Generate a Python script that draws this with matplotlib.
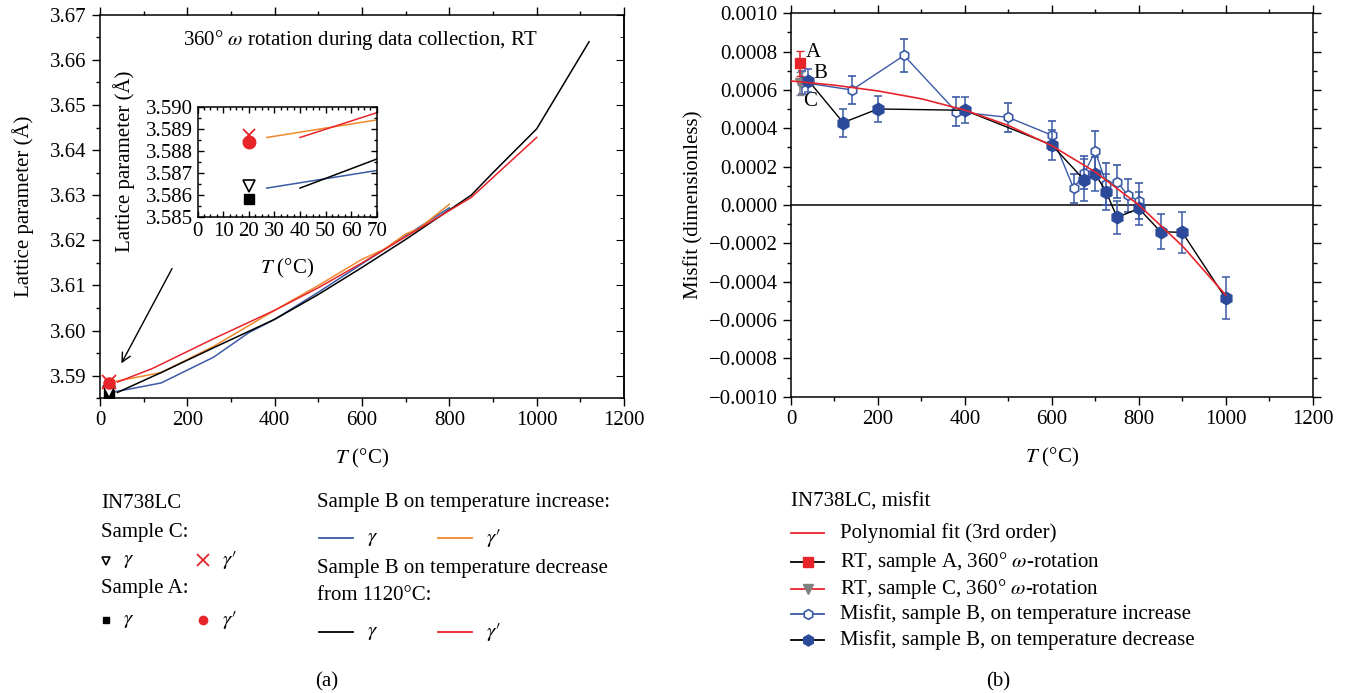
import matplotlib
matplotlib.use('Agg')
import matplotlib.pyplot as plt
from matplotlib.lines import Line2D
from matplotlib.ticker import MultipleLocator, FuncFormatter

plt.rcParams['font.family'] = ['Liberation Serif', 'DejaVu Serif']
plt.rcParams['mathtext.fontset'] = 'stix'
plt.rcParams['font.size'] = 15
FS = 15

# ---- (a) lattice parameters ----
inc_g_T = [27, 140, 260, 340, 400, 500, 600, 700, 800]
inc_g_a = [3.5863, 3.5884, 3.5941, 3.5995, 3.6025, 3.6085, 3.6148, 3.6210, 3.6272]
inc_gp_T = [27, 140, 260, 400, 500, 600, 650, 700, 730, 800]
inc_gp_a = [3.5886, 3.5907, 3.5965, 3.6045, 3.6100, 3.6158, 3.6180, 3.6214, 3.6226, 3.6280]
dec_g_T = [40, 140, 260, 400, 500, 600, 700, 850, 900, 1000, 1120]
dec_g_a = [3.5863, 3.5907, 3.5962, 3.6025, 3.6080, 3.6140, 3.6202, 3.6300, 3.6350, 3.6447, 3.6640]
dec_gp_T = [40, 120, 260, 400, 500, 600, 700, 850, 1000]
dec_gp_a = [3.5886, 3.5916, 3.5982, 3.6045, 3.6095, 3.6150, 3.6208, 3.6295, 3.6428]
rt_T = 20
c_g, c_gp = 3.5864, 3.5887
a_g, a_gp = 3.5858, 3.5884

# ---- (b) misfit (x 1e-4) ----
fit_T = [0, 100, 200, 300, 400, 500, 600, 700, 800, 900, 1000]
fit_v = [6.47, 6.25, 5.95, 5.54, 4.95, 4.15, 3.09, 1.72, 0.0, -2.13, -4.70]
inc_T = [25, 140, 260, 380, 500, 600, 650, 675, 700, 725, 750, 775, 800]
inc_v = [6.40, 6.00, 7.80, 4.87, 4.57, 3.64, 0.87, 1.68, 2.80, 1.10, 1.22, 0.50, 0.21]
inc_e = [0.60, 0.75, 0.85, 0.77, 0.75, 0.75, 0.75, 0.85, 1.05, 1.10, 0.85, 0.85, 0.95]
dec_T = [1000, 900, 850, 800, 750, 725, 700, 675, 600, 400, 200, 120, 40]
dec_v = [-4.87, -1.43, -1.39, -0.18, -0.65, 0.68, 1.62, 1.29, 3.13, 4.94, 5.01, 4.30, 6.49]
dec_e = [1.10, 1.05, 0.90, 0.85, 0.85, 0.95, 0.90, 1.10, 0.78, 0.67, 0.70, 0.73, 0.60]
A_T, A_v, A_e = 20, 7.39, 0.66
C_T, C_v, C_e = 20, 6.35, 0.60

BLUE = '#3b5aa6'
DBLUE = '#2c4a9a'
ORANGE = '#f0892c'
RED = '#e8242b'
GRAY = '#808080'
GP = r'$\gamma\prime$'
G = r'$\gamma$'

W, H = 1348, 693
fig = plt.figure(figsize=(W / 100, H / 100), dpi=100)


def fx(x):
    return x / W


def fy(y):
    return 1 - y / H


def style_axes(ax):
    for s in ax.spines.values():
        s.set_linewidth(1.1)
    ax.tick_params(which='major', length=6, width=1.0, labelsize=FS)
    ax.tick_params(which='minor', length=3, width=1.0)


def draw_lattice(ax):
    ax.plot(inc_g_T, inc_g_a, color=BLUE, lw=1.1)
    ax.plot(inc_gp_T, inc_gp_a, color=ORANGE, lw=1.1)
    ax.plot(dec_g_T, dec_g_a, color='black', lw=1.1)
    ax.plot(dec_gp_T, dec_gp_a, color=RED, lw=1.1)


# ---------------- panel (a) ----------------
ax1 = fig.add_axes([fx(100), fy(398.3), fx(624 - 100), (398.3 - 14.7) / H])
draw_lattice(ax1)
ax1.plot(rt_T, a_g, 's', color='black', ms=7)
ax1.plot(rt_T, c_g, 'v', mfc='white', mec='black', ms=8, mew=1.2)
ax1.plot(rt_T, a_gp, 'o', color=RED, ms=8)
ax1.plot(rt_T, c_gp, 'x', color=RED, ms=10, mew=1.3)
ax1.set_xlim(0, 1200)
ax1.set_ylim(3.585, 3.67)
ax1.xaxis.set_major_locator(MultipleLocator(200))
ax1.xaxis.set_minor_locator(MultipleLocator(100))
ax1.yaxis.set_major_locator(MultipleLocator(0.01))
ax1.yaxis.set_minor_locator(MultipleLocator(0.005))
ax1.yaxis.set_major_formatter(FuncFormatter(lambda v, p: f'{v:.2f}'))
style_axes(ax1)
ax1.tick_params(axis='x', which='both', direction='out', top=True)
ax1.tick_params(axis='y', which='both', direction='out', left=True, right=False)
sec = ax1.secondary_yaxis('right')
sec.yaxis.set_major_locator(MultipleLocator(0.01))
sec.yaxis.set_minor_locator(MultipleLocator(0.005))
sec.tick_params(which='both', direction='in', labelright=False)
sec.tick_params(which='major', length=6)
sec.tick_params(which='minor', length=3)
sec.spines['right'].set_linewidth(1.1)
ax1.set_xlabel(r'$T$ (°C)', fontsize=FS, labelpad=12)
ax1.set_ylabel('Lattice parameter (Å)', fontsize=FS, labelpad=12)
ax1.text(190, 3.6644, r'360° $\omega$ rotation during data collection, RT',
         fontsize=FS, va='center', ha='left')
ax1.annotate('', xy=(46, 3.5922), xytext=(168, 3.6143),
             arrowprops=dict(arrowstyle='->', color='black', lw=1.0,
                             mutation_scale=16))

# inset
axi = fig.add_axes([fx(197.7), fy(216.7), fx(376.7 - 197.7), (216.7 - 106.7) / H])
draw_lattice(axi)
axi.plot(rt_T, a_g, 's', color='black', ms=7)
axi.plot(rt_T, c_g, 'v', mfc='white', mec='black', ms=9, mew=1.2)
axi.plot(rt_T, a_gp, 'o', color=RED, ms=9)
axi.plot(rt_T, c_gp, 'x', color=RED, ms=9, mew=1.3)
axi.set_xlim(0, 70)
axi.set_ylim(3.585, 3.590)
axi.xaxis.set_major_locator(MultipleLocator(10))
axi.xaxis.set_minor_locator(MultipleLocator(2.5))
axi.yaxis.set_major_locator(MultipleLocator(0.001))
axi.yaxis.set_minor_locator(MultipleLocator(0.0005))
axi.yaxis.set_major_formatter(FuncFormatter(lambda v, p: f'{v:.3f}'))
style_axes(axi)
axi.tick_params(which='both', direction='in', top=True, right=True)
axi.tick_params(which='major', length=4)
axi.tick_params(which='minor', length=2)
axi.set_xlabel(r'$T$ (°C)', fontsize=FS, labelpad=12)
axi.set_ylabel('Lattice parameter (Å)', fontsize=FS, labelpad=8)

# ---------------- panel (b) ----------------
ax2 = fig.add_axes([fx(791), fy(396.7), fx(1312.7 - 791), (396.7 - 13.3) / H])
sc = 1e-4
ax2.axhline(0, color='black', lw=1.1, zorder=1)
ax2.plot(inc_T, [v * sc for v in inc_v], color=BLUE, lw=1.0, zorder=2)
ax2.errorbar(inc_T, [v * sc for v in inc_v], yerr=[e * sc for e in inc_e],
             fmt='h', ms=7, mfc='white', mec=BLUE, mew=1.2, ecolor=BLUE,
             elinewidth=1.1, capsize=3, capthick=1.1, zorder=3)
ax2.plot(dec_T, [v * sc for v in dec_v], color='black', lw=1.0, zorder=4)
ax2.errorbar(dec_T, [v * sc for v in dec_v], yerr=[e * sc for e in dec_e],
             fmt='h', ms=9, mfc=DBLUE, mec=DBLUE, ecolor=BLUE,
             elinewidth=1.1, capsize=3, capthick=1.1, zorder=5)
ax2.errorbar(C_T, C_v * sc, yerr=C_e * sc, fmt='v', ms=7, color=GRAY,
             ecolor=GRAY, elinewidth=1.1, capsize=3, zorder=3)
ax2.errorbar(A_T, A_v * sc, yerr=A_e * sc, fmt='s', ms=7, color=RED,
             ecolor=RED, elinewidth=1.1, capsize=3, zorder=3)
ax2.plot(fit_T, [v * sc for v in fit_v], color=RED, lw=1.2, zorder=6)
ax2.text(34, 7.95 * sc, 'A', fontsize=FS, va='center', ha='left')
ax2.text(51, 6.87 * sc, 'B', fontsize=FS, va='center', ha='left')
ax2.text(27, 5.39 * sc, 'C', fontsize=FS, va='center', ha='left')
ax2.set_xlim(0, 1200)
ax2.set_ylim(-0.001, 0.001)
ax2.xaxis.set_major_locator(MultipleLocator(200))
ax2.xaxis.set_minor_locator(MultipleLocator(100))
ax2.yaxis.set_major_locator(MultipleLocator(0.0002))
ax2.yaxis.set_minor_locator(MultipleLocator(0.0001))
ax2.yaxis.set_major_formatter(
    FuncFormatter(lambda v, p: f'{v:.4f}'.replace('-', '\u2212')))
style_axes(ax2)
ax2.tick_params(which='both', direction='out', top=True, right=True)
ax2.set_xlabel(r'$T$ (°C)', fontsize=FS, labelpad=12)
ax2.set_ylabel('Misfit (dimensionless)', fontsize=FS, labelpad=4)


# ---------------- legends ----------------
def fig_line(x0, x1, y, lc, marker=None, **kw):
    fig.add_artist(Line2D([fx(x0), fx(x1)], [fy(y), fy(y)], color=lc,
                          lw=1.3, transform=fig.transFigure))
    if marker:
        fig.add_artist(Line2D([fx((x0 + x1) / 2)], [fy(y)], marker=marker,
                              ls='none', transform=fig.transFigure, **kw))


def fig_marker(x, y, marker, **kw):
    fig.add_artist(Line2D([fx(x)], [fy(y)], marker=marker, ls='none',
                          transform=fig.transFigure, **kw))


def ftxt(x, y, s, **kw):
    fig.text(fx(x), fy(y), s, va='center', ha=kw.pop('ha', 'left'),
             fontsize=kw.pop('fontsize', FS), **kw)


ftxt(101, 503, 'IN738LC')
ftxt(101, 532, 'Sample C:')
fig_marker(106, 561, 'v', mfc='white', mec='black', ms=6, mew=1.2)
ftxt(123, 560, G)
fig_marker(203, 560, 'x', color=RED, ms=9, mew=1.3)
ftxt(222, 560, GP)
ftxt(101, 588, 'Sample A:')
fig_marker(106, 620, 's', color='black', ms=5)
ftxt(123, 620, G)
fig_marker(203, 620, 'o', color=RED, ms=6)
ftxt(222, 620, GP)

ftxt(317, 503, 'Sample B on temperature increase:')
fig_line(319, 353, 538, BLUE)
ftxt(367, 538, G)
fig_line(438, 472, 538, ORANGE)
ftxt(486, 538, GP)
ftxt(317, 568, 'Sample B on temperature decrease')
ftxt(317, 596, 'from 1120°C:')
fig_line(319, 353, 632, 'black')
ftxt(367, 632, G)
fig_line(438, 472, 632, RED)
ftxt(486, 632, GP)
ftxt(327, 682, '(a)', ha='center')

ftxt(791, 502, 'IN738LC, misfit')
fig_line(791, 824, 533, RED)
ftxt(840, 533, 'Polynomial fit (3rd order)')
fig_line(791, 824, 562, 'black', 's', color=RED, ms=7)
ftxt(840, 562, r'RT, sample A, 360° $\omega$-rotation')
fig_line(791, 824, 589, RED, 'v', color=GRAY, ms=7)
ftxt(840, 589, r'RT, sample C, 360° $\omega$-rotation')
fig_line(791, 824, 614, BLUE, 'h', mfc='white', mec=BLUE, ms=7, mew=1.2)
ftxt(840, 614, 'Misfit, sample B, on temperature increase')
fig_line(791, 824, 640, 'black', 'h', color=DBLUE, ms=8)
ftxt(840, 640, 'Misfit, sample B, on temperature decrease')
ftxt(998, 682, '(b)', ha='center')

fig.savefig('out.png', dpi=100)
